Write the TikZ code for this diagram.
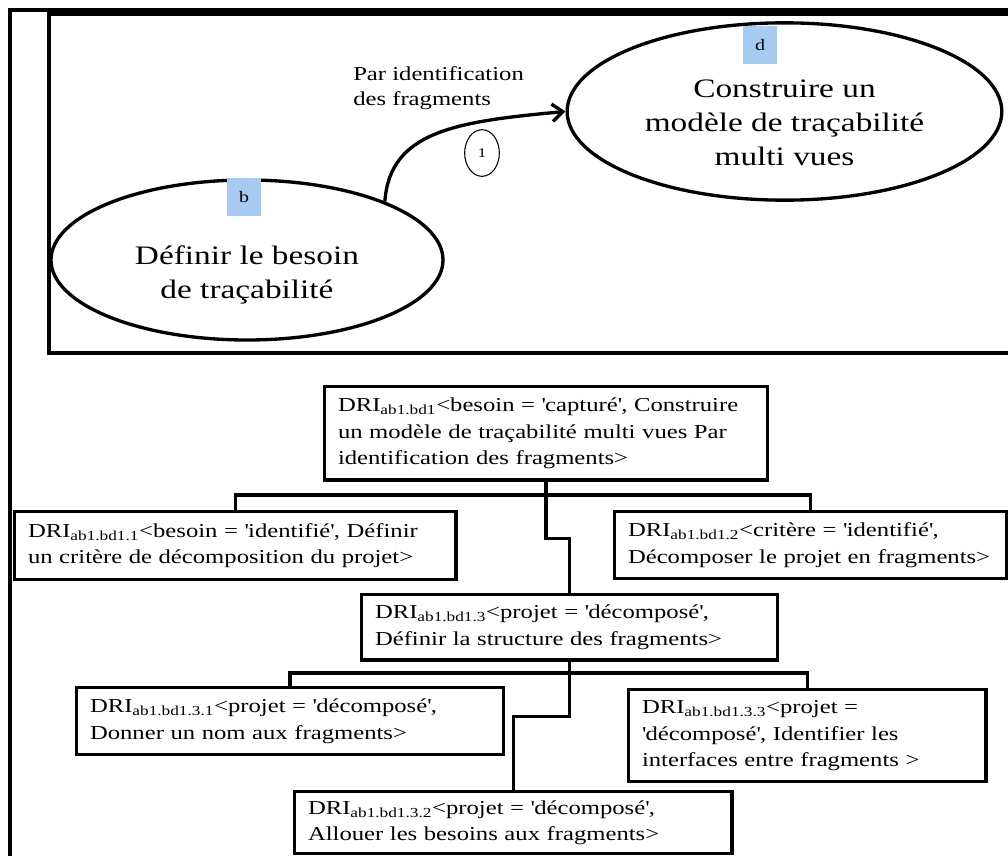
\documentclass[tikz,border=0pt]{standalone}
\usepackage{fontspec}
\setmainfont{Liberation Serif}[FakeStretch=1.25]
\usepackage{tikz}
\usetikzlibrary{arrows.meta,positioning,calc,shapes.geometric}
\definecolor{cInk}{HTML}{000000}
\definecolor{cTag}{HTML}{A6CAF0}
\newcommand{\dri}[1]{DRI\textsubscript{#1}}
\newcommand{\qt}{\textquotesingle}
\tikzset{
  frm/.style={line width=3pt,color=cInk},
  goal/.style={ellipse,draw=cInk,line width=2.5pt,inner sep=0pt},
  gtext/.style={inner sep=0pt,align=center,font=\fontsize{20}{25.5}\selectfont},
  tag/.style={fill=cTag,minimum width=26pt,minimum height=28.5pt,inner sep=0pt,font=\fontsize{12}{14}\selectfont},
  dri/.style={draw=cInk,line width=2.5pt,anchor=north west,align=left,inner xsep=10pt,inner ysep=0pt,text width=#1,font=\fontsize{14.8}{20}\selectfont},
  link/.style={line width=2.5pt,color=cInk},
  flow/.style={-{Straight Barb[length=8pt,width=13pt]},line width=2.5pt,color=cInk},
}
\begin{document}
\begin{tikzpicture}[x=0.75pt,y=-0.75pt]
  \useasboundingbox (0,0) rectangle (1008,856);
  % frames
  \draw[frm] (10,856) -- (10,10) -- (1008,10);
  \draw[frm] (1008,14) -- (49,14) -- (49,353) -- (1008,353);
  % goals
  \node[goal,minimum width=294pt,minimum height=120pt] (be) at (247,260) {};
  \node[goal,minimum width=326pt,minimum height=133pt] (cm) at (784.5,111.5) {};
  \node[gtext] (bet) at ($(be.center)+(0,15)$) {Définir le besoin\\de traçabilité};
  \node[gtext] (cmt) at ($(cm.center)+(0,11)$) {Construire un\\modèle de traçabilité\\multi vues};
  \node[tag] (tb) at (244,197) {b};
  \node[tag] (td) at (760,45) {d};
  \draw[flow] (be.23) .. controls ($(be.23)+(5,-70)$) and ($(cm.west)+(-110,10)$) .. (cm.west);
  \node[anchor=north west,inner sep=0pt,align=left,font=\fontsize{14.8}{18.75}\selectfont] (lab) at (353,66) {Par identification\\des fragments};
  \node[ellipse,draw=cInk,line width=0.8pt,minimum width=26pt,minimum height=35pt,inner sep=0pt,font=\fontsize{10}{12}\selectfont] (n1) at (482,153) {1};
  % DRI tree
  \node[dri=312pt,minimum height=70pt] (b0) at (323,385) {\dri{ab1.bd1}<besoin = \qt capturé\qt, Construire\\un modèle de traçabilité multi vues Par\\identification des fragments>};
  \node[dri=311pt,minimum height=51pt] (b1) at (13,510) {\dri{ab1.bd1.1}<besoin = \qt identifié\qt, Définir\\un critère de décomposition du projet>};
  \node[dri=274pt,minimum height=50pt] (b2) at (613,510) {\dri{ab1.bd1.2}<critère = \qt identifié\qt,\\Décomposer le projet en fragments>};
  \node[dri=292pt,minimum height=49pt] (b3) at (360,593) {\dri{ab1.bd1.3}<projet = \qt décomposé\qt,\\Définir la structure des fragments>};
  \node[dri=300pt,minimum height=50pt] (b4) at (75,686) {\dri{ab1.bd1.3.1}<projet = \qt décomposé\qt,\\Donner un nom aux fragments>};
  \node[dri=308pt,minimum height=46.5pt] (b5) at (293,790) {\dri{ab1.bd1.3.2}<projet = \qt décomposé\qt,\\Allouer les besoins aux fragments>};
  \node[dri=248pt,minimum height=69pt] (b6) at (627,688) {\dri{ab1.bd1.3.3}<projet =\\\qt décomposé\qt, Identifier les\\interfaces entre fragments >};
  \draw[link] (b0.south) -- ++(0,57) -| (b3.north);
  \draw[link] (b1.north) -- ++(0,-15) -| (b2.north);
  \draw[link] (b3.south) -- ++(0,55) -| (b5.north);
  \draw[link] (b4.north) -- ++(0,-13) -| (b6.north);
\end{tikzpicture}
\end{document}
